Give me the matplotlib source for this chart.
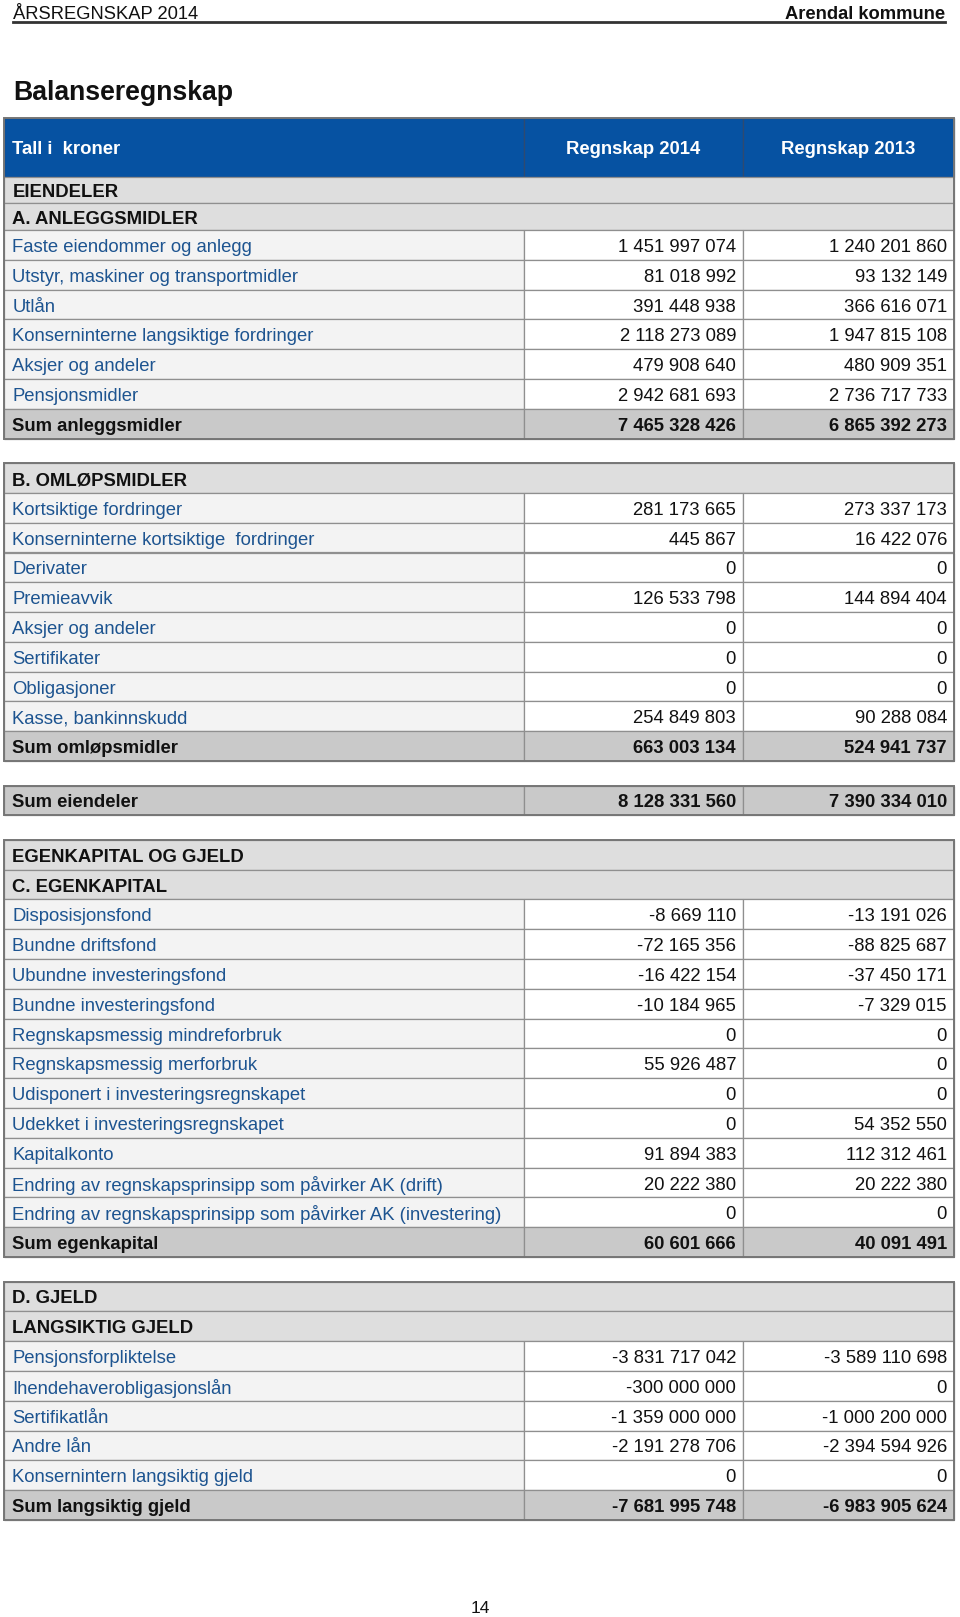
import matplotlib
matplotlib.use("Agg")
import matplotlib.pyplot as plt
from matplotlib.patches import Rectangle

plt.rcParams['font.family'] = ['Liberation Sans', 'DejaVu Sans']

# Table data
col_headers = ["Tall i  kroner", "Regnskap 2014", "Regnskap 2013"]

anlegg_heads = ["EIENDELER", "A. ANLEGGSMIDLER"]
anlegg_labels = ["Faste eiendommer og anlegg", "Utstyr, maskiner og transportmidler", "Utlån",
                 "Konserninterne langsiktige fordringer", "Aksjer og andeler", "Pensjonsmidler"]
anlegg_2014 = [1451997074, 81018992, 391448938, 2118273089, 479908640, 2942681693]
anlegg_2013 = [1240201860, 93132149, 366616071, 1947815108, 480909351, 2736717733]
anlegg_sum = ("Sum anleggsmidler", 7465328426, 6865392273)

omlop_heads = ["B. OMLØPSMIDLER"]
omlop_labels = ["Kortsiktige fordringer", "Konserninterne kortsiktige  fordringer", "Derivater",
                "Premieavvik", "Aksjer og andeler", "Sertifikater", "Obligasjoner", "Kasse, bankinnskudd"]
omlop_2014 = [281173665, 445867, 0, 126533798, 0, 0, 0, 254849803]
omlop_2013 = [273337173, 16422076, 0, 144894404, 0, 0, 0, 90288084]
omlop_sum = ("Sum omløpsmidler", 663003134, 524941737)

eiendeler_sum = ("Sum eiendeler", 8128331560, 7390334010)

ek_heads = ["EGENKAPITAL OG GJELD", "C. EGENKAPITAL"]
ek_labels = ["Disposisjonsfond", "Bundne driftsfond", "Ubundne investeringsfond", "Bundne investeringsfond",
             "Regnskapsmessig mindreforbruk", "Regnskapsmessig merforbruk",
             "Udisponert i investeringsregnskapet", "Udekket i investeringsregnskapet", "Kapitalkonto",
             "Endring av regnskapsprinsipp som påvirker AK (drift)",
             "Endring av regnskapsprinsipp som påvirker AK (investering)"]
ek_2014 = [-8669110, -72165356, -16422154, -10184965, 0, 55926487, 0, 0, 91894383, 20222380, 0]
ek_2013 = [-13191026, -88825687, -37450171, -7329015, 0, 0, 0, 54352550, 112312461, 20222380, 0]
ek_sum = ("Sum egenkapital", 60601666, 40091491)

gjeld_heads = ["D. GJELD", "LANGSIKTIG GJELD"]
gjeld_labels = ["Pensjonsforpliktelse", "Ihendehaverobligasjonslån", "Sertifikatlån", "Andre lån",
                "Konsernintern langsiktig gjeld"]
gjeld_2014 = [-3831717042, -300000000, -1359000000, -2191278706, 0]
gjeld_2013 = [-3589110698, 0, -1000200000, -2394594926, 0]
gjeld_sum = ("Sum langsiktig gjeld", -7681995748, -6983905624)

# Style
BLUE = '#0652a2'
HEAD_GRAY = '#dedede'
LABEL_BG = '#f3f3f3'
SUM_GRAY = '#c9c9c9'
EDGE = '#8f8f8f'
TEXT_BLUE = '#1d5490'
FS = 13.3

X0, X1, X2, X3 = 4, 524, 743, 954
ROW_H = 29.8
GAP = 24.5
DY = 2.5  # text baseline nudge


def fmt(v):
    return f"{v:,}".replace(",", " ")


def build(heads, labels, v14, v13, total):
    rows = [("head", h, None, None) for h in heads]
    rows += [("row", l, a, b) for l, a, b in zip(labels, v14, v13)]
    if total is not None:
        rows.append(("sum",) + total)
    return rows


sections = [
    build(anlegg_heads, anlegg_labels, anlegg_2014, anlegg_2013, anlegg_sum),
    build(omlop_heads, omlop_labels, omlop_2014, omlop_2013, omlop_sum),
    build([], [], [], [], eiendeler_sum),
    build(ek_heads, ek_labels, ek_2014, ek_2013, ek_sum),
    build(gjeld_heads, gjeld_labels, gjeld_2014, gjeld_2013, gjeld_sum),
]

fig = plt.figure(figsize=(9.6, 16.17), dpi=100)
ax = fig.add_axes([0, 0, 1, 1])
ax.set_xlim(0, 960)
ax.set_ylim(1617, 0)
ax.axis('off')

# Page header
ax.text(13, 14.5, "ÅRSREGNSKAP 2014", fontsize=13.2, ha='left', va='center', color='#111111')
ax.text(945, 14.5, "Arendal kommune", fontsize=13.2, ha='right', va='center', fontweight='bold', color='#111111')
ax.plot([13, 945], [22, 22], color='#333333', lw=2.0)
ax.text(13, 93, "Balanseregnskap", fontsize=19.2, ha='left', va='center', fontweight='bold', color='#111111')
ax.text(480.5, 1608, "14", fontsize=12.5, ha='center', va='center', color='#111111')


def cell(x0, x1, y, h, color, lw=0.9, ec=EDGE):
    ax.add_patch(Rectangle((x0, y), x1 - x0, h, facecolor=color, edgecolor=ec, lw=lw))


y = 118
for si, rows in enumerate(sections):
    top = y
    if si == 0:
        # blue column header
        hh = 59
        cell(X0, X1, y, hh, BLUE, ec='#2f4a70')
        cell(X1, X2, y, hh, BLUE, ec='#2f4a70')
        cell(X2, X3, y, hh, BLUE, ec='#2f4a70')
        ax.text(X0 + 8.5, y + hh / 2 + DY, col_headers[0], fontsize=FS, fontweight='bold', color='white',
                ha='left', va='center')
        ax.text((X1 + X2) / 2, y + hh / 2 + DY, col_headers[1], fontsize=FS, fontweight='bold', color='white',
                ha='center', va='center')
        ax.text((X2 + X3) / 2, y + hh / 2 + DY, col_headers[2], fontsize=FS, fontweight='bold', color='white',
                ha='center', va='center')
        y += hh
    for ri, (kind, label, a, b) in enumerate(rows):
        h = ROW_H
        if si == 0 and kind == "head":
            h = 26.5
        cy = y + h / 2 + DY
        if kind == "head":
            cell(X0, X3, y, h, HEAD_GRAY)
            ax.text(X0 + 8.5, cy, label, fontsize=FS, fontweight='bold', color='#111111', ha='left', va='center')
        else:
            bg = SUM_GRAY if kind == "sum" else LABEL_BG
            vbg = SUM_GRAY if kind == "sum" else 'white'
            weight = 'bold' if kind == "sum" else 'normal'
            lcolor = '#111111' if kind == "sum" else TEXT_BLUE
            cell(X0, X1, y, h, bg)
            cell(X1, X2, y, h, vbg)
            cell(X2, X3, y, h, vbg)
            ax.text(X0 + 8.5, cy, label, fontsize=FS, fontweight=weight, color=lcolor, ha='left', va='center')
            ax.text(X2 - 7, cy, fmt(a), fontsize=FS, fontweight=weight, color='#111111', ha='right', va='center')
            ax.text(X3 - 7, cy, fmt(b), fontsize=FS, fontweight=weight, color='#111111', ha='right', va='center')
        y += h
    # outer frame of the block
    ax.add_patch(Rectangle((X0, top), X3 - X0, y - top, fill=False, edgecolor='#767676', lw=1.4))
    y += GAP

fig.savefig("out.png", dpi=100)
